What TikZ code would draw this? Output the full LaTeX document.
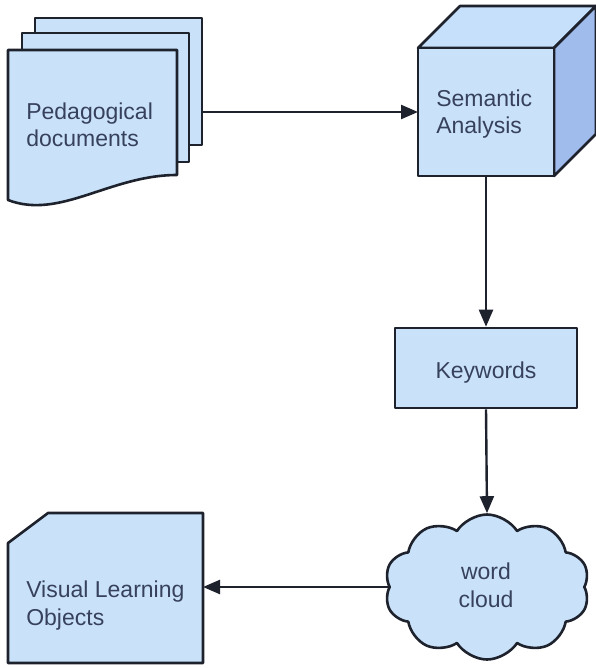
\documentclass[tikz,border=0pt]{standalone}
\usepackage{fontspec}
\setmainfont{Liberation Sans}
\usetikzlibrary{arrows.meta,shapes.symbols,calc}
\definecolor{fillblue}{RGB}{201,226,250}
\definecolor{sideblue}{RGB}{160,188,236}
\definecolor{topblue}{RGB}{198,223,250}
\definecolor{edgec}{RGB}{30,34,45}
\definecolor{txt}{RGB}{55,65,92}
\begin{document}
\begin{tikzpicture}[x=1pt,y=-1pt, line width=2.6pt, line join=round,
  shapebox/.style={draw=edgec, fill=fillblue},
  ghost/.style={draw=none, inner sep=0pt, outer sep=0pt},
  lbl/.style={font=\fontsize{23}{27.5}\selectfont, text=txt, align=left, inner sep=0pt},
  conn/.style={draw=edgec, line width=2.4pt, -{Triangle[length=17pt,width=14pt]}}]
\useasboundingbox (0,0) rectangle (595,668);
% document stack
\node[ghost, minimum width=167pt, minimum height=127pt] (doc3) at (118.5,81.5) {};
\node[ghost, minimum width=167pt, minimum height=129pt] (doc2) at (105.5,97.5) {};
\node[ghost, minimum width=169pt, minimum height=150pt] (doc1) at (92.5,125) {};
\draw[shapebox] (doc3.north west) rectangle (doc3.south east);
\draw[shapebox] (doc2.north west) rectangle (doc2.south east);
\draw[shapebox] (doc1.north west) -- (doc1.north east) -- ($(doc1.north east)+(0,125)$)
  .. controls ($(doc1.north east)+(-67,125)$) and ($(doc1.north west)+(52,170)$) .. ($(doc1.north west)+(0,150)$) -- cycle;
\node[lbl, anchor=base west] (doclbl) at (25,147) {Pedagogical\\documents};
% cube
\node[ghost, minimum width=136pt, minimum height=128pt] (sem) at (486,112) {};
\draw[shapebox, fill=topblue] (sem.north west) -- ++(42,-42) -- ++(136,0) -- (sem.north east) -- cycle;
\draw[shapebox, fill=sideblue] (sem.north east) -- ++(42,-42) -- ++(0,128) -- (sem.south east) -- cycle;
\draw[shapebox] (sem.north west) rectangle (sem.south east);
\node[lbl, anchor=base west] (semlbl) at (435,134) {Semantic\\Analysis};
% keywords
\node[shapebox, minimum width=182pt, minimum height=80pt] (kw) at (486,368) {};
\node[lbl, anchor=base] (kwlbl) at (486,378) {Keywords};
% cloud
\node[cloud, cloud puffs=10, cloud puff arc=115, cloud ignores aspect, shapebox,
  minimum width=205pt, minimum height=145pt] (cl) at (487,587) {};
\node[lbl, align=center, anchor=base] (cllbl) at (486,607) {word\\cloud};
% visual learning objects
\node[ghost, minimum width=195pt, minimum height=150pt] (vlo) at (105.5,588) {};
\draw[shapebox] (vlo.south west) -- ($(vlo.north west)+(0,30)$) -- ($(vlo.north west)+(40,0)$)
  -- (vlo.north east) -- (vlo.south east) -- cycle;
\node[lbl, anchor=base west] (vlolbl) at (25,625) {Visual Learning\\Objects};
% connectors
\draw[conn] (doc3.east |- sem.west) -- (sem.west);
\draw[conn] (sem.south) -- (kw.north);
\draw[conn] (kw.south) -- (cl.north);
\draw[conn] (cl.west) -- (cl.west -| vlo.east);
\end{tikzpicture}
\end{document}
